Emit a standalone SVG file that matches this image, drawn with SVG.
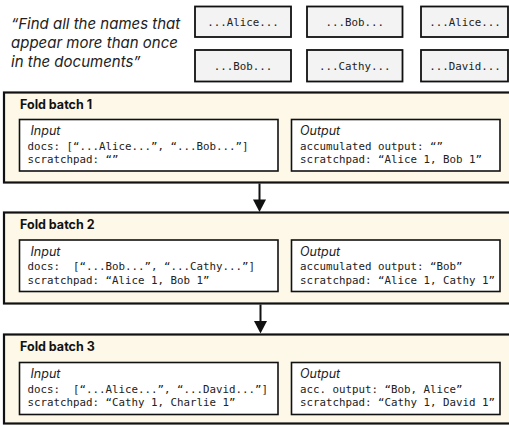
<svg xmlns="http://www.w3.org/2000/svg" width="509" height="427" viewBox="0 0 509 427">
<style>
.bg{fill:#ffffff}
.doc rect{fill:#f3f3f3;stroke:#111;stroke-width:1.8}
.doc text{font-family:"DejaVu Sans Mono",monospace;font-size:10.8px;fill:#222;text-anchor:middle}
.quote{font-family:Inter,"Liberation Sans",sans-serif;font-style:italic;font-size:15px;fill:#222}
.fold>rect.outer{fill:#fdf8e8;stroke:#111;stroke-width:2.2}
.fold rect.inner{fill:#ffffff;stroke:#111;stroke-width:1.6}
.title{font-family:Inter,"Liberation Sans",sans-serif;font-weight:bold;font-size:12.5px;fill:#111}
.lbl{font-family:Inter,"Liberation Sans",sans-serif;font-style:italic;font-size:12.5px;fill:#222}
.mono{font-family:"DejaVu Sans Mono",monospace;font-size:10.8px;fill:#222;white-space:pre}
.conn line{stroke:#111;stroke-width:2}
.conn polygon{fill:#111}
</style>
<rect class="bg" x="0" y="0" width="509" height="427"/>

<g id="question">
<text class="quote" x="11" y="29">“Find all the names that</text>
<text class="quote" x="11" y="48">appear more than once</text>
<text class="quote" x="11" y="67">in the documents”</text>
</g>

<g id="doc1" class="doc"><rect x="195" y="6.5" width="96" height="30.5"/><text x="243" y="25.5">...Alice...</text></g>
<g id="doc2" class="doc"><rect x="307" y="6.5" width="95.5" height="30.5"/><text x="354.75" y="25.5">...Bob...</text></g>
<g id="doc3" class="doc"><rect x="421" y="6.5" width="87" height="30.5"/><text x="465" y="25.5">...Alice...</text></g>
<g id="doc4" class="doc"><rect x="195" y="50" width="96" height="31.5"/><text x="243" y="69.5">...Bob...</text></g>
<g id="doc5" class="doc"><rect x="307" y="50" width="95.5" height="31.5"/><text x="354.75" y="69.5">...Cathy...</text></g>
<g id="doc6" class="doc"><rect x="421" y="50" width="87" height="31.5"/><text x="465" y="69.5">...David...</text></g>

<g id="fold1" class="fold">
<rect class="outer" x="4" y="92.5" width="508" height="90"/>
<text class="title" x="20" y="109">Fold batch 1</text>
<rect class="inner" x="19.5" y="119.5" width="258.5" height="51.5"/>
<text class="lbl" x="30.5" y="135">Input</text>
<text class="mono" x="27.5" y="149.5">docs: [“...Alice...”, “...Bob...”]</text>
<text class="mono" x="27.5" y="163">scratchpad: “”</text>
<rect class="inner" x="291.5" y="119.5" width="208.5" height="51.5"/>
<text class="lbl" x="300" y="135">Output</text>
<text class="mono" x="300" y="149.5">accumulated output: “”</text>
<text class="mono" x="300" y="163">scratchpad: “Alice 1, Bob 1”</text>
</g>

<g id="fold2" class="fold">
<rect class="outer" x="4" y="212.5" width="508" height="91"/>
<text class="title" x="20" y="229">Fold batch 2</text>
<rect class="inner" x="19.5" y="240" width="258.5" height="51.5"/>
<text class="lbl" x="30.5" y="255.5">Input</text>
<text class="mono" x="27.5" y="270">docs:  [“...Bob...”, “...Cathy...”]</text>
<text class="mono" x="27.5" y="283.5">scratchpad: “Alice 1, Bob 1”</text>
<rect class="inner" x="291.5" y="240" width="208.5" height="51.5"/>
<text class="lbl" x="300" y="255.5">Output</text>
<text class="mono" x="300" y="270">accumulated output: “Bob”</text>
<text class="mono" x="300" y="283.5">scratchpad: “Alice 1, Cathy 1”</text>
</g>

<g id="fold3" class="fold">
<rect class="outer" x="4" y="334.5" width="508" height="89"/>
<text class="title" x="20" y="350.5">Fold batch 3</text>
<rect class="inner" x="19.5" y="362.5" width="258.5" height="52"/>
<text class="lbl" x="30.5" y="378">Input</text>
<text class="mono" x="27.5" y="392.5">docs:  [“...Alice...”, “...David...”]</text>
<text class="mono" x="27.5" y="406">scratchpad: “Cathy 1, Charlie 1”</text>
<rect class="inner" x="291.5" y="362.5" width="208.5" height="52"/>
<text class="lbl" x="300" y="378">Output</text>
<text class="mono" x="300" y="392.5">acc. output: “Bob, Alice”</text>
<text class="mono" x="300" y="406">scratchpad: “Cathy 1, David 1”</text>
</g>

<g id="connectors" class="conn">
<line x1="259.5" y1="183.5" x2="259.5" y2="201"/>
<polygon points="253,199.5 266,199.5 259.5,212"/>
<line x1="260.5" y1="304.5" x2="260.5" y2="322"/>
<polygon points="254,321 267,321 260.5,333.5"/>
</g>
</svg>
